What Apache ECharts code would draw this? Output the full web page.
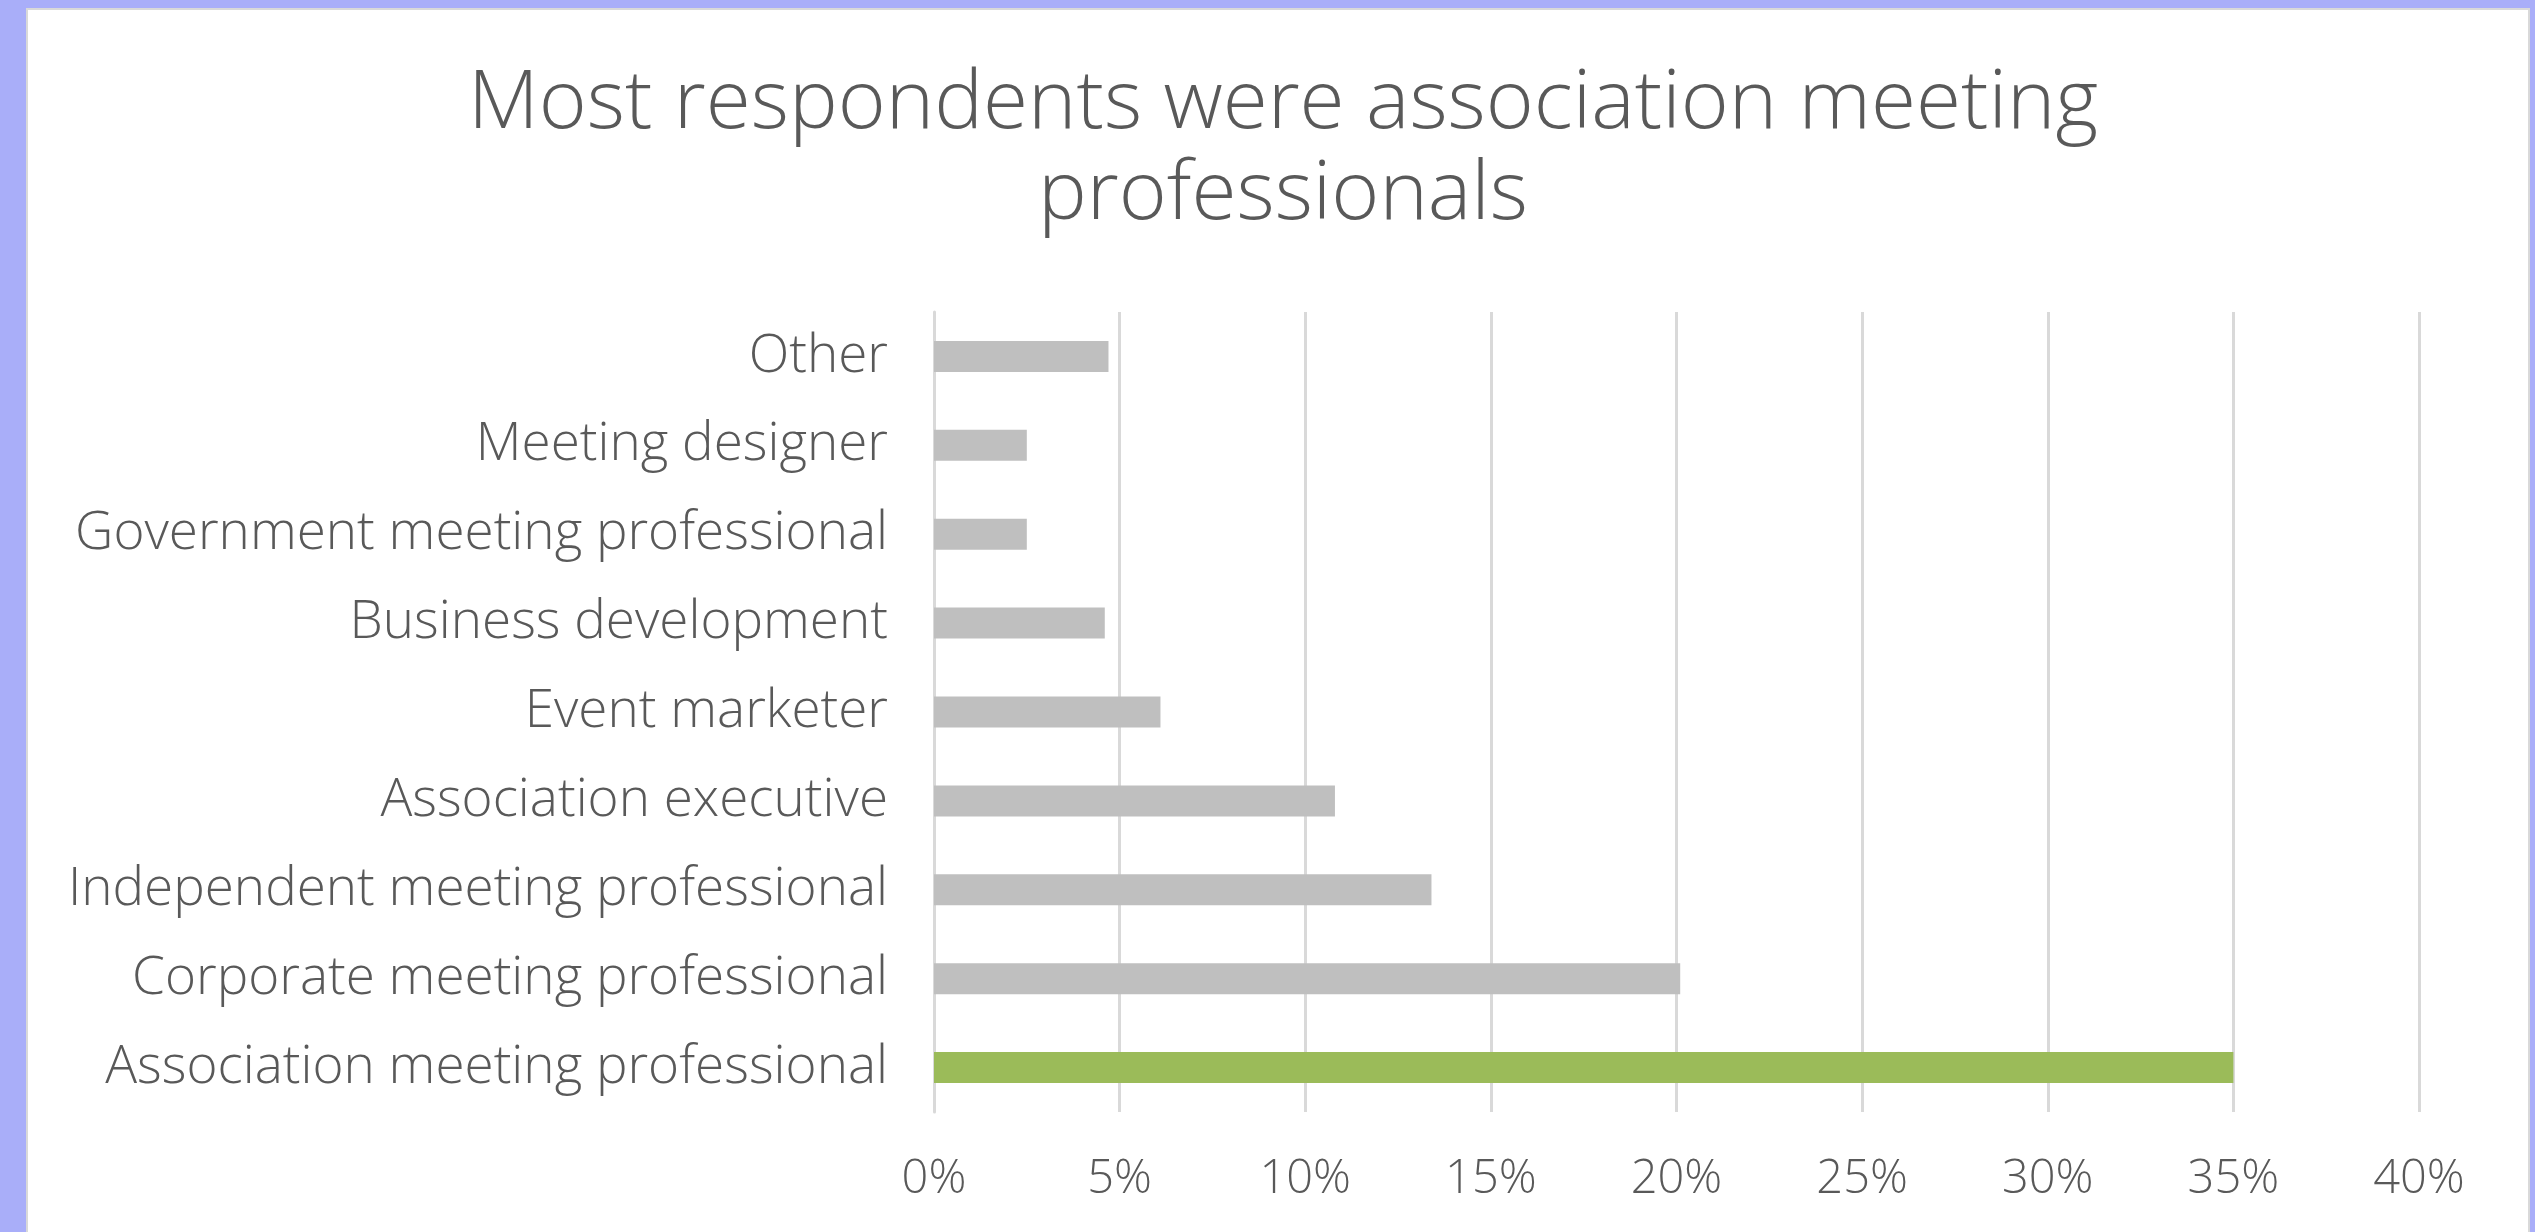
<!DOCTYPE html>
<html>
<head>
<meta charset="utf-8">
<title>Respondent roles</title>
<script src="https://cdn.jsdelivr.net/npm/echarts@6/dist/echarts.min.js"></script>
<style>
  html, body { margin: 0; padding: 0; background: #a9aef9; }
  #chart { width: 2535px; height: 1232px; }
</style>
</head>
<body>
<div id="chart"></div>
<script>
// Respondent roles, listed bottom to top as drawn on the category axis
const categories = [
  'Association meeting professional',
  'Corporate meeting professional',
  'Independent meeting professional',
  'Association executive',
  'Event marketer',
  'Business development',
  'Government meeting professional',
  'Meeting designer',
  'Other'
];
// Share of respondents, in percent
const shares = [35.0, 20.1, 13.4, 10.8, 6.1, 4.6, 2.5, 2.5, 4.7];
// Role that gets the accent colour
const highlightRole = 'Association meeting professional';
// Percent ticks along the value axis
const tickMin = 0, tickMax = 40, tickStep = 5;

const FONT = '"Open Sans", Lato, sans-serif';
const TEXT = '#595959';

const chart = echarts.init(document.getElementById('chart'), null, { renderer: 'canvas' });

chart.setOption({
  backgroundColor: '#a9aef9',
  animation: false,
  graphic: [{
    type: 'rect',
    left: 26, top: 8,
    shape: { width: 2502, height: 1240 },
    style: { fill: '#ffffff', stroke: '#d9d9d9', lineWidth: 2 },
    z: -10
  }],
  title: {
    text: 'Most respondents were association meeting\nprofessionals',
    left: 1278,
    textAlign: 'center',
    top: 54,
    textStyle: {
      fontFamily: FONT,
      fontWeight: 300,
      fontSize: 82,
      lineHeight: 91,
      color: TEXT
    }
  },
  grid: { left: 934, right: 116, top: 312, bottom: 120, containLabel: false },
  xAxis: {
    type: 'value',
    min: tickMin, max: tickMax, interval: tickStep,
    axisLine: { show: false },
    axisTick: { show: false },
    splitLine: { show: true, lineStyle: { color: '#d9d9d9', width: 3 } },
    axisLabel: {
      formatter: '{value}%',
      margin: 44,
      fontFamily: FONT, fontWeight: 300, fontSize: 47, color: TEXT
    }
  },
  yAxis: {
    type: 'category',
    data: categories,
    axisLine: { show: true, lineStyle: { color: '#d9d9d9', width: 3 } },
    axisTick: { show: false },
    axisLabel: {
      margin: 46,
      fontFamily: FONT, fontWeight: 300, fontSize: 53, color: TEXT
    }
  },
  series: [{
    type: 'bar',
    barWidth: 31,
    data: shares.map((v, i) => ({
      value: v,
      itemStyle: { color: categories[i] === highlightRole ? '#9bbb59' : '#bfbfbf' }
    }))
  }]
});
</script>
</body>
</html>
